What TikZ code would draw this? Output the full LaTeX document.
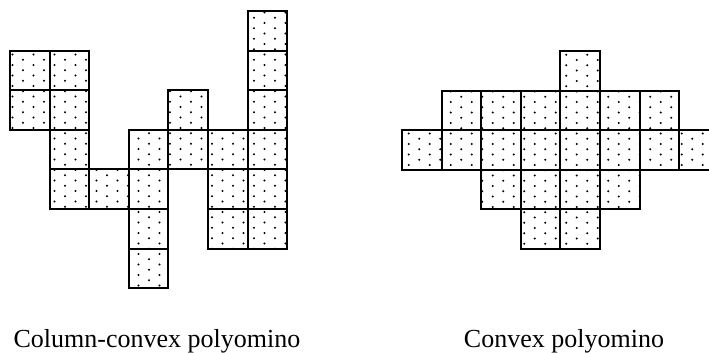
\documentclass[tikz,border=0pt]{standalone}
\usepackage{fontspec}
\setmainfont{Liberation Serif}
\begin{document}
\begin{tikzpicture}[x=1pt,y=-1pt,
  cellborder/.style={line width=2.1pt, line join=miter, draw=black},
  dotmark/.style={fill=black},
  caption/.style={font=\fontsize{26}{30}\selectfont, anchor=base, inner sep=0pt}]
\useasboundingbox (0,0) rectangle (709,353);
\clip (0,0) rectangle (709,353);
\def\s{39.6}
\def\leftcells{0/1,0/2,1/1,1/2,1/3,1/4,2/4,3/3,3/4,3/5,3/6,4/2,4/3,5/3,5/4,5/5,6/0,6/1,6/2,6/3,6/4,6/5}
\def\rightcells{0/2,1/1,1/2,2/1,2/2,2/3,3/1,3/2,3/3,3/4,4/0,4/1,4/2,4/3,4/4,5/1,5/2,5/3,6/1,6/2,7/2}
% left polyomino: dots
\begin{scope}
\clip \foreach \c/\r in \leftcells {({10+\s*\c},{11+\s*\r}) rectangle ++(\s,\s)};
\foreach \i in {0,...,28} \foreach \j in {0,...,29}
  \fill[dotmark] ({2+10.5*\i},{-3.3+10.5*\j+5.25*mod(\i,2)}) circle (1.15);
\end{scope}
% left polyomino: borders
\foreach \c/\r in \leftcells
  \draw[cellborder] ({10+\s*\c},{11+\s*\r}) rectangle ++(\s,\s);
% right polyomino: dots
\begin{scope}
\clip \foreach \c/\r in \rightcells {({402+\s*\c},{51+\s*\r}) rectangle ++(\s,\s)};
\foreach \i in {0,...,30} \foreach \j in {0,...,20}
  \fill[dotmark] ({398.2+10.5*\i},{44.25+10.5*\j+5.25*mod(\i,2)}) circle (1.15);
\end{scope}
% right polyomino: borders
\foreach \c/\r in \rightcells
  \draw[cellborder] ({402+\s*\c},{51+\s*\r}) rectangle ++(\s,\s);
% captions
\node[caption] (capleft) at (157,347) {Column-convex polyomino};
\node[caption] (capright) at (564,347) {Convex polyomino};
\end{tikzpicture}
\end{document}
